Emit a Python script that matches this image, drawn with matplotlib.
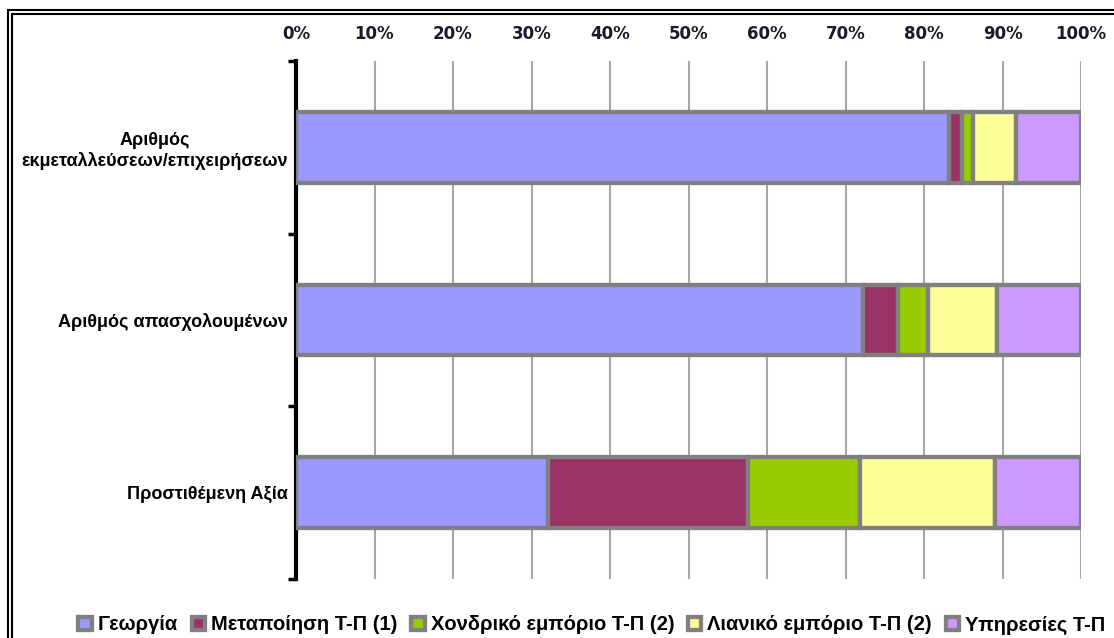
import matplotlib.pyplot as plt
from matplotlib.patches import Rectangle
from matplotlib.ticker import PercentFormatter
import numpy as np

# Categories (top to bottom) and shares per sector (%)
categories = ['Αριθμός\nεκμεταλλεύσεων/επιχειρήσεων',
              'Αριθμός απασχολουμένων',
              'Προστιθέμενη Αξία']
sectors = ['Γεωργία', 'Μεταποίηση Τ-Π (1)', 'Χονδρικό εμπόριο Τ-Π (2)',
           'Λιανικό εμπόριο Τ-Π (2)', 'Υπηρεσίες Τ-Π']
georgia = [83.2, 72.2, 32.1]
metapoiisi = [1.6, 4.5, 25.5]
xondriko = [1.5, 3.8, 14.2]
lianiko = [5.4, 8.8, 17.2]
ypiresies = [8.3, 10.7, 11.0]
colors = ['#9999FF', '#993366', '#99CC00', '#FFFF99', '#CC99FF']

series = [georgia, metapoiisi, xondriko, lianiko, ypiresies]

W, H = 1114, 638
fig = plt.figure(figsize=(W / 100, H / 100), dpi=100)
ax = fig.add_axes([296 / W, 1 - 579 / H, (1081 - 296) / W, (579 - 61) / H])

y = np.arange(len(categories))
left = np.zeros(len(categories))
for name, vals, c in zip(sectors, series, colors):
    ax.barh(y, vals, left=left, height=0.41, color=c, edgecolor='#808080',
            linewidth=3.1, label=name, zorder=3)
    left += np.array(vals)

ax.set_xlim(0, 100)
ax.set_ylim(2.5, -0.5)
ax.set_xticks(np.arange(0, 101, 10))
ax.xaxis.set_major_formatter(PercentFormatter(decimals=0))
ax.xaxis.tick_top()
ax.tick_params(axis='x', length=0, pad=13, labelsize=12, labelcolor='#1a1a2e')
for lbl in ax.get_xticklabels():
    lbl.set_fontweight('bold')
ax.grid(axis='x', color='#A6A6A6', linewidth=1.5, zorder=0)

ax.set_yticks(y)
ax.set_yticklabels(categories, fontsize=13, fontweight='bold',
                   family='Liberation Sans', ha='right', multialignment='center')
ax.tick_params(axis='y', length=0, pad=6)
ax.set_yticks([-0.5, 0.5, 1.5, 2.5], minor=True)
ax.tick_params(axis='y', which='minor', length=6, width=2.5, color='black')

for s in ['top', 'right', 'bottom']:
    ax.spines[s].set_visible(False)
ax.spines['left'].set_linewidth(3)
ax.spines['left'].set_color('black')

# legend at bottom
fig.legend(loc='center', bbox_to_anchor=(592 / W, 1 - 625 / H), ncol=5,
           frameon=False, handlelength=0.65, handleheight=0.65,
           handletextpad=0.3, columnspacing=0.7,
           prop={'family': 'Liberation Sans', 'weight': 'bold', 'size': 14.5})

# double frame around the chart
fig.patches.append(Rectangle((7.5 / W, -0.1), 1.2, 1 - 10.5 / H + 0.1,
                             transform=fig.transFigure, fill=False,
                             edgecolor='black', linewidth=1.5))
fig.patches.append(Rectangle((11.5 / W, -0.1), 1.2, 1 - 14.5 / H + 0.1,
                             transform=fig.transFigure, fill=False,
                             edgecolor='black', linewidth=1.5))

fig.savefig('out.png', dpi=100)
